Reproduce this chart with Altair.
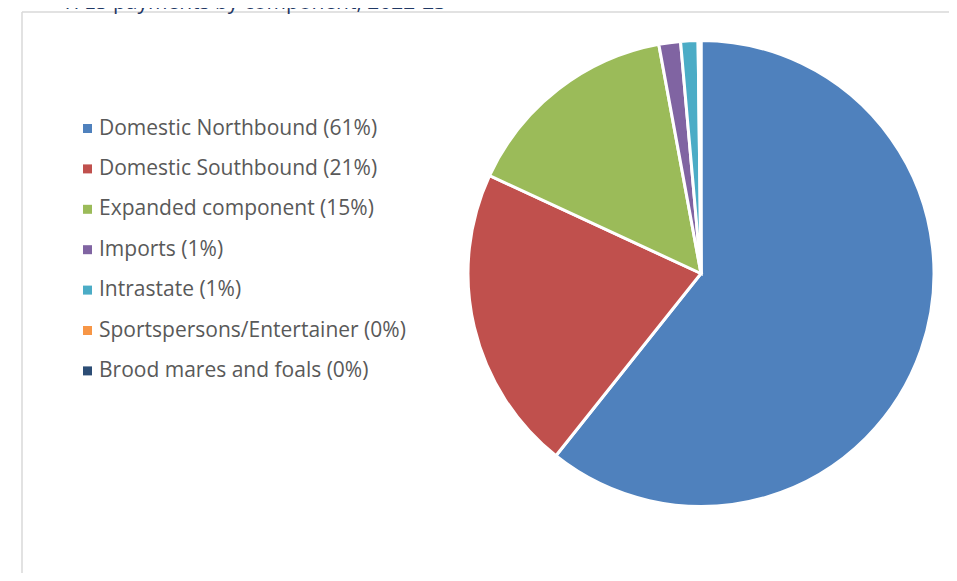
import altair as alt
import pandas as pd

# ---- data ----
components = [
    "Domestic Northbound",
    "Domestic Southbound",
    "Expanded component",
    "Imports",
    "Intrastate",
    "Sportspersons/Entertainer",
    "Brood mares and foals",
]
shares = [60.7, 21.2, 15.2, 1.5, 1.2, 0.1, 0.1]
share_labels = ["61%", "21%", "15%", "1%", "1%", "0%", "0%"]
colors = ["#4F81BD", "#C0504D", "#9BBB59", "#8064A2", "#4BACC6", "#F79646", "#2C4D75"]
title_text = "TFES payments by component, 2022-23"

labels = [f"{c} ({p})" for c, p in zip(components, share_labels)]
df = pd.DataFrame({"label": labels, "share": shares, "order": list(range(len(labels)))})

W, H = 941, 565
CX, CY, R = 693, 265.5, 233

pie = alt.Chart(df).mark_arc(
    outerRadius=R, stroke="white", strokeWidth=3
).encode(
    theta=alt.Theta("share:Q", stack=True),
    order=alt.Order("order:Q"),
    color=alt.Color(
        "label:N",
        sort=labels,
        scale=alt.Scale(domain=labels, range=colors),
        legend=alt.Legend(
            title=None,
            orient="none",
            legendX=69,
            legendY=110,
            symbolType="square",
            symbolSize=81,
            symbolStrokeWidth=0,
            labelFontSize=21,
            labelFont="Open Sans",
            labelColor="#595959",
            labelOffset=1,
            rowPadding=18.4,
            labelLimit=400,
        ),
    ),
    x=alt.value(CX),
    y=alt.value(CY),
)

border_top = alt.Chart(pd.DataFrame({"a": [0]})).mark_rule(
    color="#D9D9D9", strokeWidth=1.5
).encode(x=alt.value(14), x2=alt.value(W + 5), y=alt.value(4))

border_left = alt.Chart(pd.DataFrame({"a": [0]})).mark_rule(
    color="#D9D9D9", strokeWidth=1.5
).encode(x=alt.value(14), y=alt.value(4), y2=alt.value(H + 5))

title = alt.Chart(pd.DataFrame({"t": [title_text]})).mark_text(
    font="Open Sans", fontSize=21, color="#1F3864", align="center", baseline="alphabetic"
).encode(x=alt.value(246), y=alt.value(1), text="t:N")

chart = alt.layer(border_top, border_left, pie, title).properties(
    width=W, height=H, padding=0, autosize=alt.AutoSizeParams(type="none")
).configure_view(stroke=None)

chart.save("out.html", embed_options={"renderer": "svg", "actions": False})
